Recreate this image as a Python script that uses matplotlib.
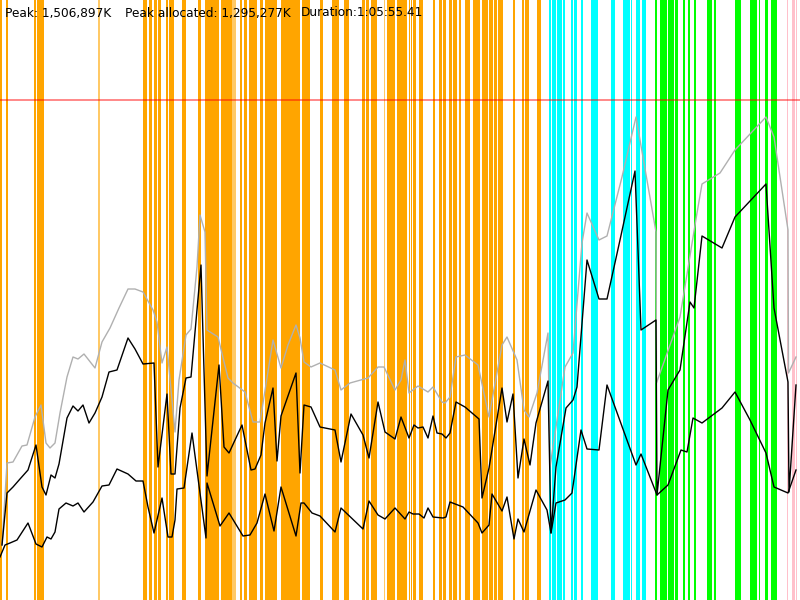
import matplotlib
matplotlib.use("Agg")
import matplotlib.pyplot as plt

# cabeçalho
header = ["Peak: 1,506,897K", "Peak allocated: 1,295,277K", "Duration:1:05:55.41"]
header_x = [5, 125, 301]

# faixas verticais (inicio, fim) por tipo
orange_spans = [(0, 2), (6, 7.5), (34, 36), (37, 39), (39.5, 44), (143, 147), (149, 152),
                (154, 157), (158, 161), (166, 168), (169, 174), (182, 186), (198, 201),
                (205, 208), (208.7, 219), (221, 225.5), (226.3, 229), (229.7, 232),
                (240, 242), (244, 247), (249, 257), (260, 263), (265, 277), (281, 300),
                (302, 310), (320, 323), (332, 339), (344, 349), (362, 365), (366, 369),
                (371, 377), (387, 395), (397, 407), (409, 410), (411, 412), (413, 416),
                (419, 423), (433, 435), (439, 442), (443, 446), (449, 452), (453, 457),
                (459, 461), (465, 470), (473, 480), (482, 488), (489, 493), (494, 497),
                (498, 503), (513, 515), (522, 524), (525, 529), (537, 541)]
orange_light = [(98, 100), (232.7, 236), (384, 385)]
cyan_spans = [(549, 551), (552, 556), (557, 562), (563, 565), (571, 573), (574, 577),
              (581, 583), (591, 598), (611, 615), (623, 630), (631, 632), (636, 640),
              (642, 646)]
green_spans = [(655, 657), (660, 667), (668, 674), (675, 678), (683, 685), (688, 690),
               (694, 696), (707, 712), (714, 716), (735, 741), (750, 757), (759, 760),
               (765, 768), (771, 777)]
pink_spans = [(787, 788), (792, 795), (796, 797)]

peak_line = 100

# série cinza
gray_x = [2, 7, 13, 22, 27, 35, 41, 46, 50, 55, 60, 67, 73, 78, 84, 95, 102, 110, 119, 128,
          135, 143, 153, 157, 162, 167, 175, 179, 186, 191, 197, 200, 205, 207, 218, 228,
          233, 245, 253, 260, 267, 273, 281, 288, 296, 300, 304, 311, 320, 335, 341, 350,
          368, 378, 384, 395, 401, 405, 409, 418, 428, 433, 442, 445, 450, 456, 465, 478,
          489, 502, 507, 517, 524, 529, 537, 548, 550, 565, 573, 582, 587, 599, 607, 622,
          636, 656, 656.5, 680, 697, 702, 720, 735, 766, 774, 788, 788.5, 796]
gray_y = [545, 463, 462, 446, 445, 417, 405, 443, 448, 443, 413, 377, 357, 359, 354, 368,
          342, 328, 308, 289, 289, 292, 310, 322, 363, 347, 432, 380, 335, 329, 267, 215,
          232, 330, 337, 378, 383, 392, 422, 422, 378, 340, 368, 345, 325, 338, 362, 367,
          363, 370, 390, 383, 378, 367, 367, 390, 380, 360, 393, 386, 392, 387, 402, 403,
          397, 357, 355, 365, 417, 345, 337, 360, 410, 417, 393, 333, 467, 367, 353, 243,
          213, 240, 236, 177, 117, 232, 383, 317, 213, 184, 173, 150, 117, 137, 230, 373,
          357]

# série preta superior
upper_x = [2, 7, 13, 20, 28, 36, 42, 46, 51, 55, 59, 67, 73, 78, 83, 89, 95, 102, 109, 117,
           128, 135, 143, 154, 158, 167, 171, 175, 180, 186, 191, 201, 207, 219, 224, 229,
           242, 251, 255, 261, 265, 273, 277, 281, 296, 300, 304, 311, 320, 335, 341, 351,
           363, 369, 378, 385, 395, 401, 409, 414, 418, 423, 428, 433, 437, 442, 446, 450,
           456, 465, 479, 482, 489, 502, 507, 513, 518, 524, 530, 536, 548, 551, 556, 566,
           573, 577, 587, 599, 607, 620, 635, 641, 656, 657, 668, 680, 690, 694, 702, 722,
           735, 766, 774, 788, 789, 796]
upper_y = [545, 493, 487, 479, 470, 445, 487, 495, 475, 478, 464, 418, 406, 411, 405, 423,
           413, 397, 372, 370, 338, 349, 364, 363, 467, 394, 474, 474, 408, 378, 377, 265,
           476, 365, 447, 453, 425, 470, 469, 455, 423, 388, 461, 416, 373, 473, 405, 407,
           427, 430, 462, 414, 435, 458, 402, 432, 439, 417, 438, 425, 428, 427, 438, 416,
           433, 434, 438, 433, 402, 407, 419, 498, 468, 388, 422, 394, 478, 439, 465, 423,
           381, 533, 467, 408, 400, 387, 260, 299, 299, 240, 171, 330, 320, 495, 390, 370,
           302, 308, 236, 248, 217, 184, 308, 382, 492, 385]

# série preta inferior
lower_x = [0, 5, 10, 17, 28, 36, 42, 47, 51, 55, 59, 66, 73, 78, 84, 93, 102, 109, 117, 128,
           136, 143, 148, 154, 162, 168, 172, 175, 177, 184, 192, 206, 207, 220, 229, 243,
           250, 257, 265, 274, 281, 296, 301, 304, 312, 320, 335, 341, 363, 369, 378, 385,
           395, 405, 409, 413, 419, 424, 428, 433, 443, 446, 450, 463, 478, 482, 489, 492,
           502, 507, 514, 518, 524, 536, 547, 551, 556, 565, 572, 581, 587, 599, 607, 636,
           641, 657, 668, 681, 687, 693, 702, 722, 735, 750, 766, 774, 788, 796]
lower_y = [557, 545, 543, 540, 523, 544, 547, 537, 539, 532, 509, 503, 506, 503, 512, 502,
           486, 485, 469, 474, 481, 481, 507, 533, 498, 537, 537, 520, 489, 488, 433, 538,
           483, 526, 513, 536, 535, 523, 494, 531, 487, 536, 503, 503, 513, 516, 532, 508,
           529, 501, 515, 519, 508, 519, 512, 514, 514, 518, 508, 517, 518, 517, 502, 507,
           523, 533, 525, 494, 511, 497, 539, 519, 532, 490, 510, 533, 503, 500, 493, 430,
           449, 450, 385, 465, 454, 495, 485, 450, 452, 418, 423, 408, 392, 420, 453, 487,
           493, 470]

fig = plt.figure(figsize=(8, 6), dpi=100)
ax = fig.add_axes([0, 0, 1, 1])
ax.set_xlim(0, 800)
ax.set_ylim(600, 0)
ax.axis('off')

pad = 0.25
for a, b in orange_spans:
    ax.axvspan(a - pad, b + pad, color='#ffa500', lw=0)
for a, b in orange_light:
    ax.axvspan(a - pad, b + pad, color='#ffa500', alpha=0.6, lw=0)
for a, b in cyan_spans:
    ax.axvspan(a - pad, b + pad, color='#00ffff', lw=0)
for a, b in green_spans:
    ax.axvspan(a - pad, b + pad, color='#00ff00', lw=0)
for a, b in pink_spans:
    ax.axvspan(a - pad, b + pad, color='#ffc0cb', lw=0)

ax.axhline(peak_line, color='red', alpha=0.5, lw=1.3)

ax.plot(gray_x, gray_y, color='#b0b0b0', lw=1.0)
ax.plot(upper_x, upper_y, color='black', lw=1.0)
ax.plot(lower_x, lower_y, color='black', lw=1.0)

for txt, x in zip(header, header_x):
    ax.text(x, 13, txt, fontsize=8.7, family='DejaVu Sans', va='center', ha='left')

fig.savefig("out.png", dpi=100)
